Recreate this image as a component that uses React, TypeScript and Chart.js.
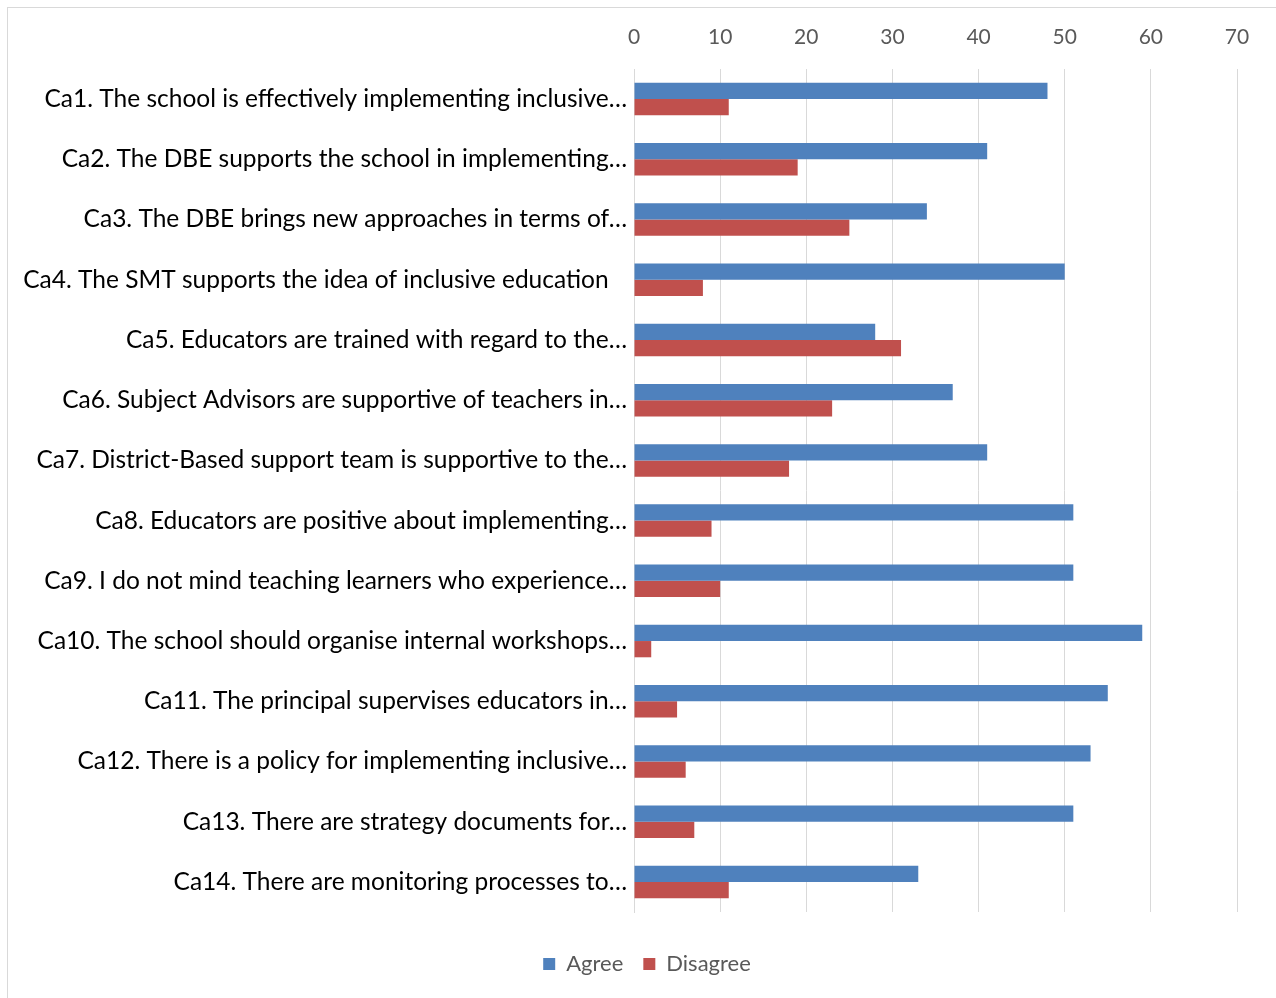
import React, { useEffect, useRef } from "react";
import { Chart, registerables } from "chart.js";

Chart.register(...registerables);

const categories = [
  "Ca1. The school is effectively implementing inclusive…",
  "Ca2. The DBE supports the school in implementing…",
  "Ca3. The DBE brings new approaches in terms of…",
  "Ca4. The SMT supports the idea of inclusive education",
  "Ca5. Educators are trained with regard to the…",
  "Ca6. Subject Advisors are supportive of teachers in…",
  "Ca7. District-Based support team is supportive to the…",
  "Ca8. Educators are positive about implementing…",
  "Ca9. I do not mind teaching learners who experience…",
  "Ca10. The school should organise internal workshops…",
  "Ca11. The principal supervises educators in…",
  "Ca12. There is a policy for implementing inclusive…",
  "Ca13. There are strategy documents for…",
  "Ca14. There are monitoring processes to…",
];

const agree = [48, 41, 34, 50, 28, 37, 41, 51, 51, 59, 55, 53, 51, 33];
const disagree = [11, 19, 25, 8, 31, 23, 18, 9, 10, 2, 5, 6, 7, 11];

const xTicks = [0, 10, 20, 30, 40, 50, 60, 70];

const FONT = "Lato, 'Open Sans', sans-serif";
const PAD_LEFT = 10;

export default function App() {
  const canvasRef = useRef<HTMLCanvasElement | null>(null);

  useEffect(() => {
    if (!canvasRef.current) return;
    const chart = new Chart(canvasRef.current, {
      type: "bar",
      data: {
        labels: categories,
        datasets: [
          {
            label: "Agree",
            data: agree,
            backgroundColor: "#4F81BD",
            borderWidth: 0,
            barPercentage: 1,
            categoryPercentage: 0.54,
            yAxisID: "y",
          },
          {
            label: "Disagree",
            data: disagree,
            backgroundColor: "#C0504D",
            borderWidth: 0,
            barPercentage: 1,
            categoryPercentage: 0.54,
            yAxisID: "y",
          },
        ],
      },
      options: {
        indexAxis: "y",
        animation: false,
        responsive: true,
        maintainAspectRatio: false,
        layout: { padding: { left: PAD_LEFT, right: 0, top: 0, bottom: 13 } },
        scales: {
          x: {
            position: "top",
            min: xTicks[0],
            max: xTicks[xTicks.length - 1],
            afterBuildTicks: (scale: any) => {
              scale.ticks = xTicks.map((v) => ({ value: v }));
            },
            afterFit: (scale: any) => {
              scale.height = 61;
            },
            grid: {
              color: "#d9d9d9",
              lineWidth: 1,
              drawTicks: false,
            },
            border: { display: false },
            ticks: {
              padding: 19,
              color: "#595959",
              font: { family: FONT, size: 21 },
            },
          },
          y: {
            afterFit: (scale: any) => {
              scale.width = 626 - PAD_LEFT;
            },
            grid: { display: false, drawTicks: false },
            border: { display: true, color: "#d9d9d9" },
            ticks: {
              padding: 7,
              color: "#000000",
              font: { family: FONT, size: 24.5 },
              autoSkip: false,
              callback: function (this: any, value: any) {
                const lbl = categories[value as number];
                return lbl.endsWith("…") ? lbl : lbl + "\u2002\u2005";
              },
            },
          },
          yRight: {
            type: "category",
            position: "right",
            display: true,
            afterFit: (scale: any) => {
              scale.width = 39;
            },
            grid: { display: false, drawTicks: false },
            border: { display: false },
            ticks: { display: false },
          },
        },
        plugins: {
          legend: {
            position: "bottom",
            title: {
              display: true,
              text: "",
              font: { size: 10, lineHeight: 1 },
              padding: { top: 11, bottom: 0 },
            },
            labels: {
              boxWidth: 12,
              boxHeight: 12,
              padding: 20,
              color: "#595959",
              font: { family: FONT, size: 22 },
            },
          },
          tooltip: { enabled: false },
        },
      },
    });
    return () => chart.destroy();
  }, []);

  return (
    <div
      style={{
        position: "fixed",
        left: 0,
        top: 0,
        width: 1276,
        height: 998,
        overflow: "hidden",
        background: "#ffffff",
      }}
    >
      <div
        style={{
          position: "absolute",
          left: 7,
          top: 7,
          borderLeft: "1px solid #d9d9d9",
          borderTop: "1px solid #d9d9d9",
          width: 1300,
          height: 1000,
        }}
      >
        <div style={{ position: "relative", width: 1268, height: 990 }}>
          <canvas ref={canvasRef} />
        </div>
      </div>
    </div>
  );
}
